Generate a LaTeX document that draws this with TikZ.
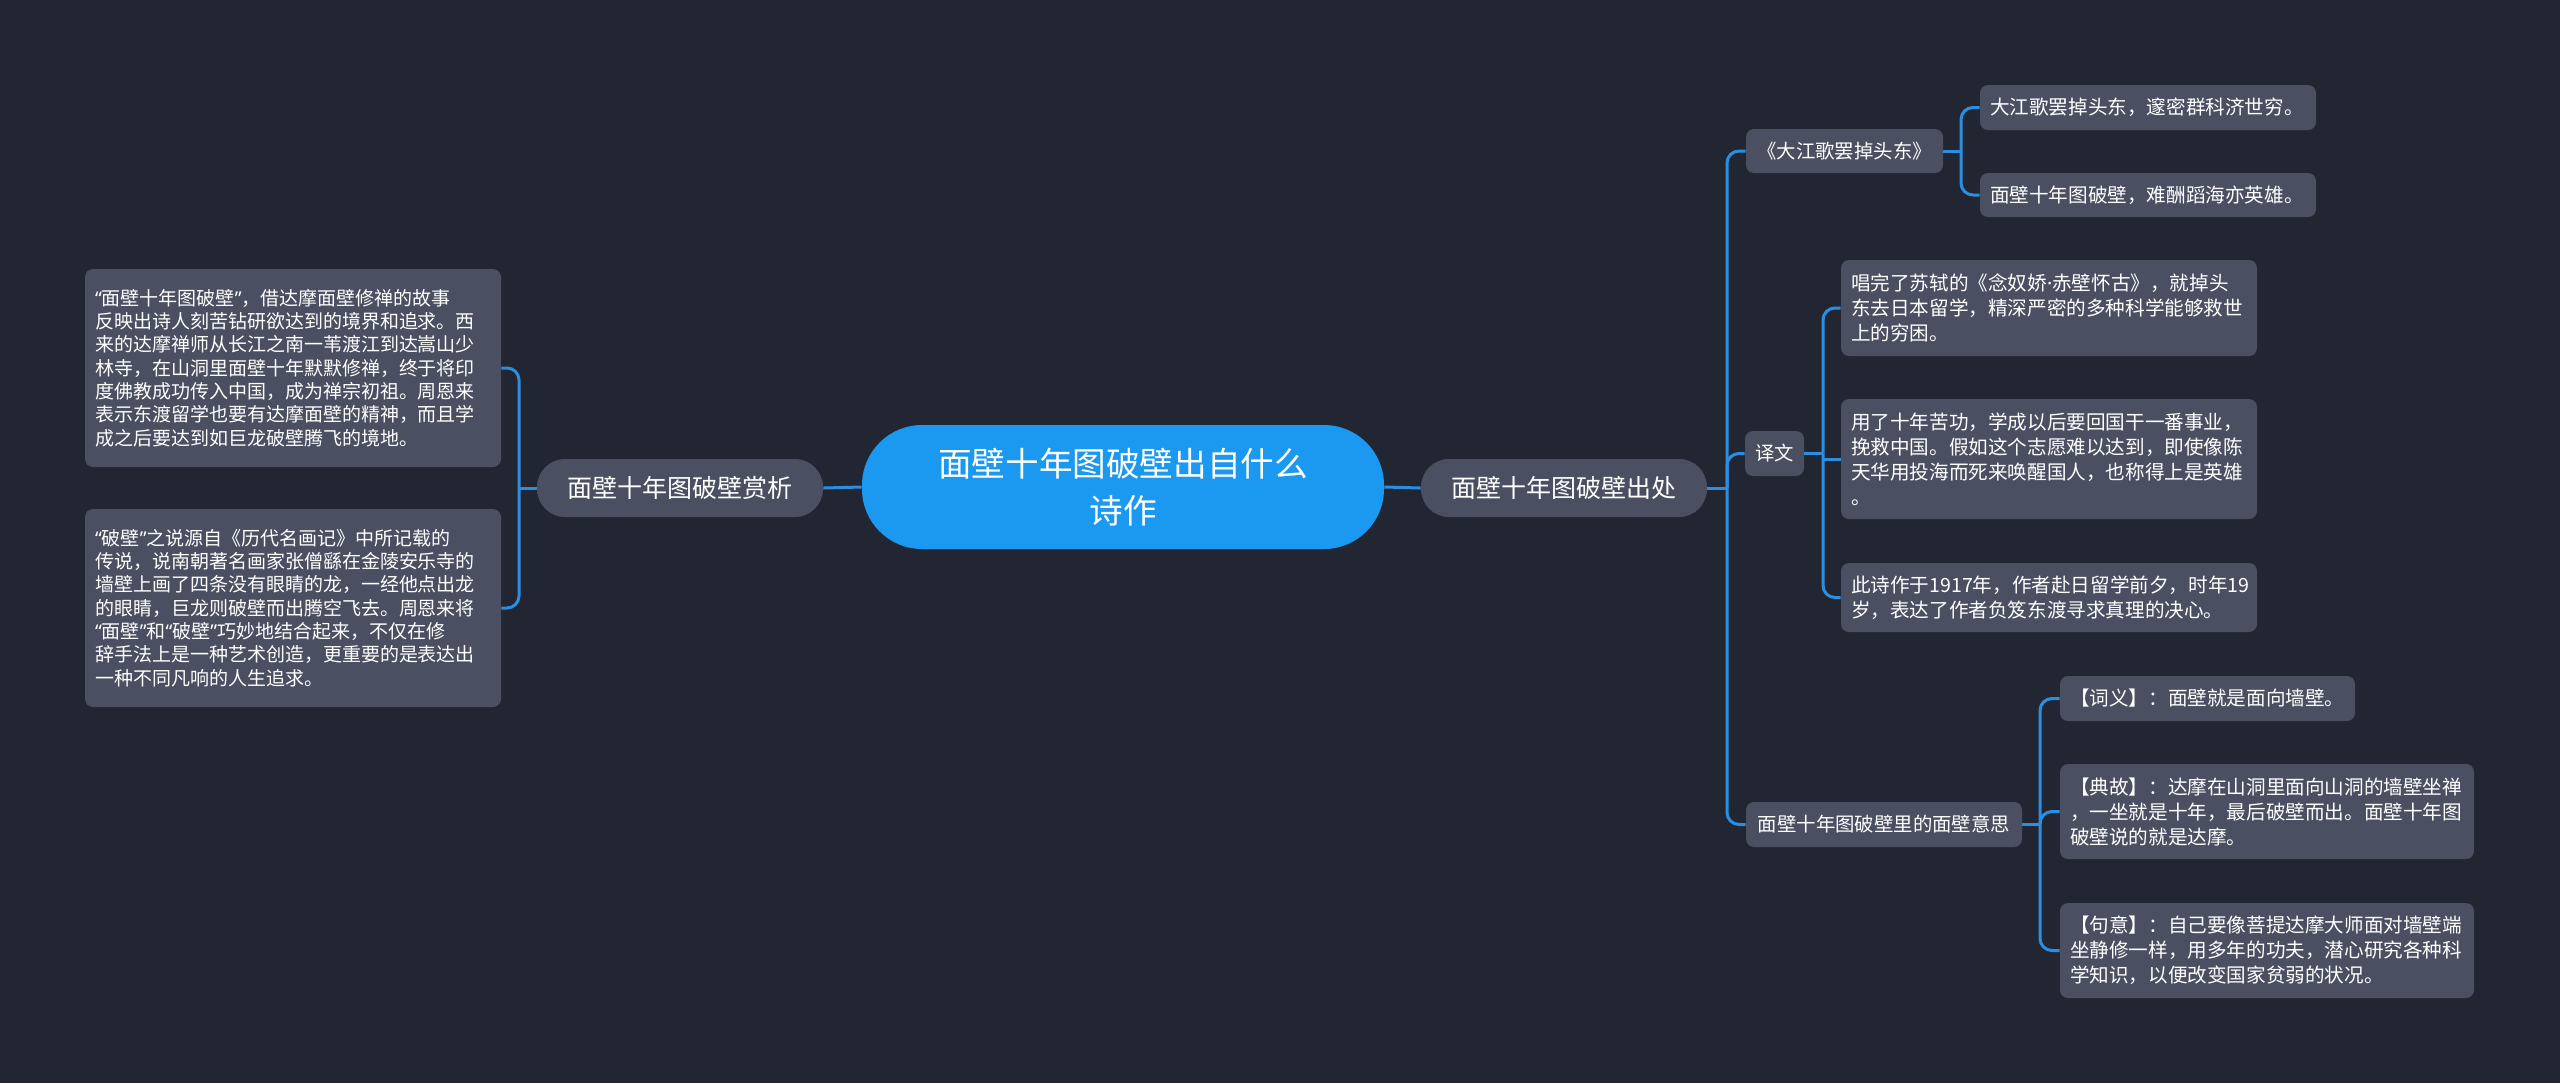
\documentclass[tikz,border=0pt]{standalone}
\usepackage{fontspec}
\setmainfont{Noto Sans CJK SC}
\newfontfamily\latinq{Noto Sans}
\newcommand{\oq}{{\latinq “}}
\newcommand{\cq}{{\latinq ”}}
\definecolor{bg}{HTML}{222632}
\definecolor{boxc}{HTML}{4A5061}
\definecolor{mainblue}{HTML}{1B98F0}
\definecolor{linkc}{HTML}{2C8EE0}
\begin{document}
\begin{tikzpicture}[x=0.5pt,y=-0.5pt,
 box/.style={fill=boxc, text=white, rounded corners=4pt, inner sep=0pt},
 leafR/.style={box, align=left, inner xsep=5pt, font=\fontsize{9.8pt}{12.5pt}\selectfont},
 leafL/.style={box, align=left, inner xsep=5pt, font=\fontsize{9.5pt}{11.65pt}\selectfont},
 lvtwo/.style={box, font=\fontsize{9.7pt}{12pt}\selectfont},
 lvone/.style={box, rounded corners=14pt, font=\fontsize{12.5pt}{15pt}\selectfont, minimum width=143pt, minimum height=29pt},
 rootnode/.style={fill=mainblue, text=white, rounded corners=30pt, align=center, inner sep=0pt, minimum width=261pt, minimum height=62pt, font=\fontsize{16.8pt}{23.3pt}\selectfont},
 conn/.style={draw=linkc, line width=1.5pt, rounded corners=6pt}]
\fill[bg] (0,0) rectangle (2560,1083);
\useasboundingbox (0,0) rectangle (2560,1083);

% nodes
\node[rootnode] (c) at (1123,487) {面壁十年图破壁出自什么\\诗作};
\node[lvone] (l1) at (680,488) {面壁十年图破壁赏析};
\node[lvone] (r1) at (1564,488) {面壁十年图破壁出处};

\node[leafL, text width=198pt, minimum height=99pt] (lb1) at (293,368) {\oq 面壁十年图破壁\cq，借达摩面壁修禅的故事\\反映出诗人刻苦钻研欲达到的境界和追求。西\\来的达摩禅师从长江之南一苇渡江到达嵩山少\\林寺，在山洞里面壁十年默默修禅，终于将印\\度佛教成功传入中国，成为禅宗初祖。周恩来\\表示东渡留学也要有达摩面壁的精神，而且学\\成之后要达到如巨龙破壁腾飞的境地。};
\node[leafL, text width=198pt, minimum height=99pt] (lb2) at (293,608) {\oq 破壁\cq 之说源自《历代名画记》中所记载的\\传说，说南朝著名画家张僧繇在金陵安乐寺的\\墙壁上画了四条没有眼睛的龙，一经他点出龙\\的眼睛，巨龙则破壁而出腾空飞去。周恩来将\\\oq 面壁\cq 和\oq 破壁\cq 巧妙地结合起来，不仅在修\\辞手法上是一种艺术创造，更重要的是表达出\\一种不同凡响的人生追求。};

\node[lvtwo, minimum width=98.5pt, minimum height=22pt] (m1) at (1844.5,151) {《大江歌罢掉头东》};
\node[leafR, text width=158pt, minimum height=22.5pt] (m1a) at (2148,107.5) {大江歌罢掉头东，邃密群科济世穷。};
\node[leafR, text width=158pt, minimum height=22pt] (m1b) at (2148,195) {面壁十年图破壁，难酬蹈海亦英雄。};

\node[lvtwo, minimum width=29.5pt, minimum height=22.5pt] (m2) at (1774.5,453.5) {译文};
\node[leafR, text width=198pt, minimum height=48pt] (m2a) at (2049,308) {唱完了苏轼的《念奴娇{\latinq ·}赤壁怀古》，就掉头\\东去日本留学，精深严密的多种科学能够救世\\上的穷困。};
\node[leafR, text width=198pt, minimum height=60pt] (m2b) at (2049,459) {用了十年苦功，学成以后要回国干一番事业，\\挽救中国。假如这个志愿难以达到，即使像陈\\天华用投海而死来唤醒国人，也称得上是英雄\\。};
\node[leafR, text width=198pt, minimum height=34.5pt] (m2c) at (2049,597.5) {此诗作于1917年，作者赴日留学前夕，时年19\\岁，表达了作者负笈东渡寻求真理的决心。};

\node[lvtwo, minimum width=138pt, minimum height=22.5pt] (m3) at (1884,824.5) {面壁十年图破壁里的面壁意思};
\node[leafR, text width=137.5pt, minimum height=22.5pt] (m3a) at (2207.5,698.5) {【词义】：面壁就是面向墙壁。};
\node[leafR, text width=197pt, minimum height=47.5pt] (m3b) at (2267,811.5) {【典故】：达摩在山洞里面向山洞的墙壁坐禅\\，一坐就是十年，最后破壁而出。面壁十年图\\破壁说的就是达摩。};
\node[leafR, text width=197pt, minimum height=47.5pt] (m3c) at (2267,950.5) {【句意】：自己要像菩提达摩大师面对墙壁端\\坐静修一样，用多年的功夫，潜心研究各种科\\学知识，以便改变国家贫弱的状况。};

% connectors
\draw[conn] (c.west) -- (l1.east);
\draw[conn] (c.east) -- (r1.west);

\coordinate (lj) at (519,488);
\draw[conn] (l1.west) -- (lj);
\draw[conn] (lj) |- (lb1.east);
\draw[conn] (lj) |- (lb2.east);

\coordinate (rj) at (1727,488);
\draw[conn] (r1.east) -- (rj);
\draw[conn] (rj) |- (m1.west);
\draw[conn] (rj) |- (m2.west);
\draw[conn] (rj) |- (m3.west);

\coordinate (m1j) at (1961,151);
\draw[conn] (m1.east) -- (m1j);
\draw[conn] (m1j) |- (m1a.west);
\draw[conn] (m1j) |- (m1b.west);

\coordinate (m2j) at (1823,453.5);
\draw[conn] (m2.east) -- (m2j);
\draw[conn] (m2j) |- (m2a.west);
\draw[conn] (m2j |- m2b.west) -- (m2b.west);
\draw[conn] (m2j) |- (m2c.west);

\coordinate (m3j) at (2040,824.5);
\draw[conn] (m3.east) -- (m3j);
\draw[conn] (m3j) |- (m3a.west);
\draw[conn] (m3j) |- (m3b.west);
\draw[conn] (m3j) |- (m3c.west);
\end{tikzpicture}
\end{document}
